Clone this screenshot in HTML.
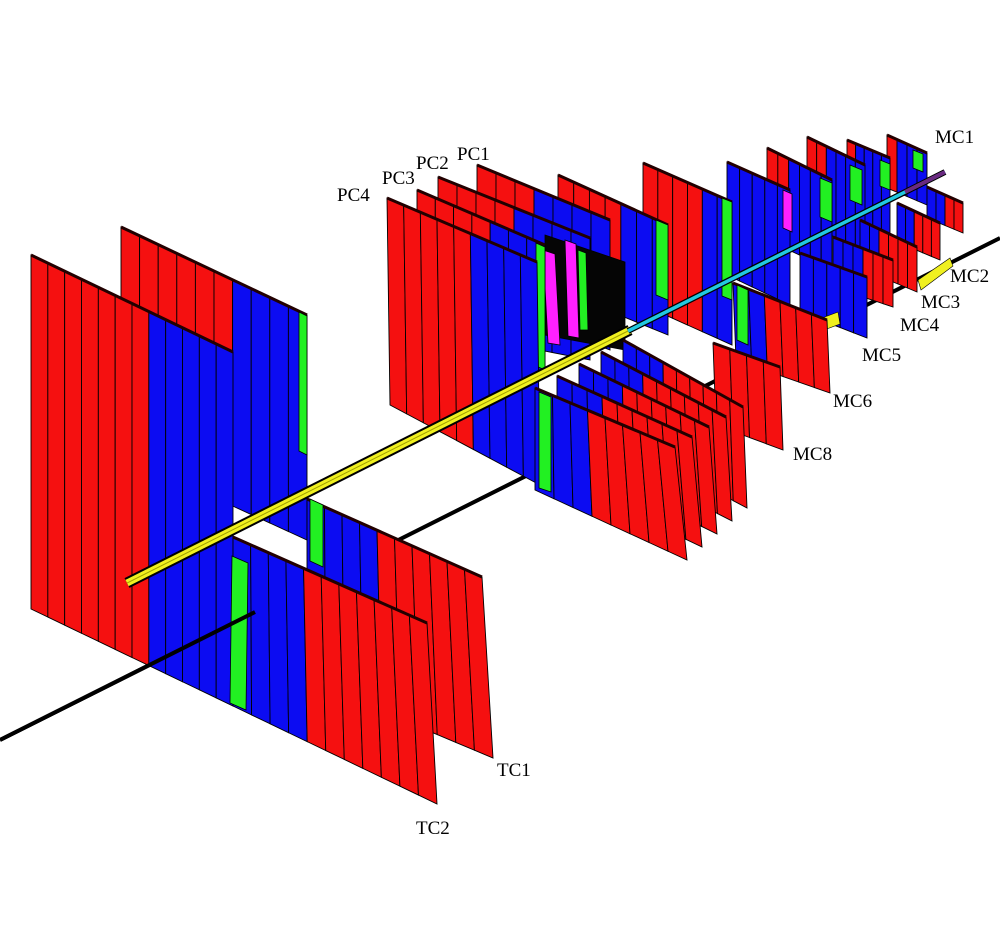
<!DOCTYPE html>
<html><head><meta charset="utf-8">
<style>
html,body{margin:0;padding:0;background:#fff;width:1000px;height:937px;overflow:hidden}
svg{display:block}
text{font-family:"Liberation Serif",serif;font-size:19px;fill:#000}
</style></head>
<body>
<svg id="s" width="1000" height="937" viewBox="0 0 1000 937" xmlns="http://www.w3.org/2000/svg">
<g id="back"></g>
<text x="935" y="143">MC1</text>
<text x="950" y="282">MC2</text>
<text x="921" y="308">MC3</text>
<text x="900" y="331">MC4</text>
<text x="862" y="361">MC5</text>
<text x="833" y="407">MC6</text>
<text x="793" y="460">MC8</text>
<text x="337" y="201">PC4</text>
<text x="382" y="184">PC3</text>
<text x="416" y="169">PC2</text>
<text x="457" y="160">PC1</text>
<text x="497" y="776">TC1</text>
<text x="416" y="834">TC2</text>
</svg>
<script>
var NS="http://www.w3.org/2000/svg";
var C={R:"#f51010",B:"#0c0cf2",G:"#22f022",P:"#ff20ff",K:"#050505",Y:"#f0f020"};
var g=document.getElementById("back");
function el(t,a){var e=document.createElementNS(NS,t);for(var k in a)e.setAttribute(k,a[k]);g.appendChild(e);return e;}
function L(a,b,t){return [a[0]+(b[0]-a[0])*t,a[1]+(b[1]-a[1])*t];}
function sheet(TL,TR,BR,BL,cols){
  var n=cols.length;
  for(var i=0;i<n;i++){
    var a=L(TL,TR,i/n),b=L(TL,TR,(i+1)/n),c=L(BL,BR,(i+1)/n),d=L(BL,BR,i/n);
    el("polygon",{points:[a,b,c,d].map(function(p){return p.join(",")}).join(" "),fill:C[cols[i]],stroke:"#000","stroke-width":"0.9"});
  }
  el("line",{x1:TL[0],y1:TL[1],x2:TR[0],y2:TR[1],stroke:"#200","stroke-width":"3"});
}
function poly(pts,f,sw){el("polygon",{points:pts,fill:f,stroke:"#000","stroke-width":sw||0.8});}
function line(x1,y1,x2,y2,c,w){el("line",{x1:x1,y1:y1,x2:x2,y2:y2,stroke:c,"stroke-width":w,"stroke-linecap":"butt"});}

line(0,740,1000,238,"#000",4);

/* ---- right MC region ---- */
sheet([887,135],[927,153],[927,205],[887,188],"RBBB");
poly("913,150 923,154 923,172 913,168","#22f022");
sheet([847,140],[890,158],[890,240],[847,220],"RBBBB");
poly("880,160 890,164 890,190 880,186","#22f022");
sheet([807,137],[865,165],[865,250],[807,225],"RRBBBB");
poly("850,165 862,170 862,205 850,200","#22f022");
sheet([767,148],[832,180],[832,270],[767,240],"RRBBBB");
poly("820,178 832,183 832,222 820,217","#22f022");
sheet([927,187],[963,203],[963,233],[927,218],"BBRR");
sheet([897,203],[940,223],[940,260],[897,242],"BBRRR");
poly("918,280 950,258 953,266 921,290","#f0f020",0.6);
sheet([860,220],[917,247],[917,292],[860,268],"BBRRRR");
sheet([833,237],[893,260],[893,307],[833,287],"BBBRRR");
sheet([727,162],[790,190],[790,305],[727,275],"BBBBB");
poly("783,190 792,194 792,232 783,228","#ff20ff");
sheet([800,253],[867,277],[867,338],[800,312],"BBBBB");
poly("822,318 838,312 840,324 824,330","#f0f020",0.6);
sheet([733,283],[827,320],[830,393],[736,360],"BBRRRR");
poly("737,285 748,290 748,345 737,340","#22f022");

/* ---- middle back sheets ---- */
sheet([643,163],[732,202],[732,345],[643,305],"RRRRBB");
poly("722,198 732,202 732,300 722,296","#22f022");
sheet([558,175],[668,225],[668,335],[558,290],"RRRRBBB");
poly("656,220 668,225 668,300 656,295","#22f022");
sheet([477,165],[610,220],[610,350],[477,300],"RRRBBBB");
sheet([438,177],[590,238],[590,360],[438,330],"RRRRBBBB");
poly("545,235 625,262 625,350 545,335","#050505");
poly("543,250 555,254 560,345 548,343","#ff20ff");
poly("565,240 576,244 579,338 568,336","#ff20ff");
poly("578,250 586,253 588,330 580,330","#22f022");
sheet([417,190],[545,245],[545,375],[417,360],"RRRRBBB");
poly("536,243 545,247 545,370 536,366","#22f022");
sheet([387,198],[537,262],[540,485],[390,405],"RRRRRBBBB");

sheet([713,343],[780,367],[783,450],[716,425],"RRRR");
for(var k=4;k>=1;k--){
  sheet([535+22*k,388-12*k],[675+17*k,447-10*k],[687+15*k,560-13*k],[535+22*k,490-12*k],"BBBRRRRRR");
}
sheet([535,388],[675,447],[687,560],[535,490],"BBBRRRRR");
poly("539,392 551,397 551,492 539,488","#22f022");

/* ---- TC ---- */
sheet([121,227],[307,315],[307,540],[121,455],"RRRRRRBBBB");
poly("299,312 307,316 307,455 299,451","#22f022");
sheet([307,499],[482,577],[493,758],[307,680],"BBBBRRRRRR");
poly("310,499 323,505 323,567 310,561","#22f022");
sheet([31,255],[233,352],[233,706],[31,609],"RRRRRRRBBBBB");
sheet([233,537],[427,623],[437,804],[233,706],"BBBBRRRRRRR");
poly("232,556 248,563 246,710 230,703","#22f022");

line(0,740,255,612,"#000",4);

line(127,583,630,330,"#000",11);
line(127,583,630,330,"#f0f020",7);
line(127,583,630,330,"#a0a000",1);
line(628,331,945,172,"#000",6);
line(628,331,945,172,"#22c8e0",3.5);
line(905,192,945,172,"#6a2a80",4);
</script>
</body></html>
